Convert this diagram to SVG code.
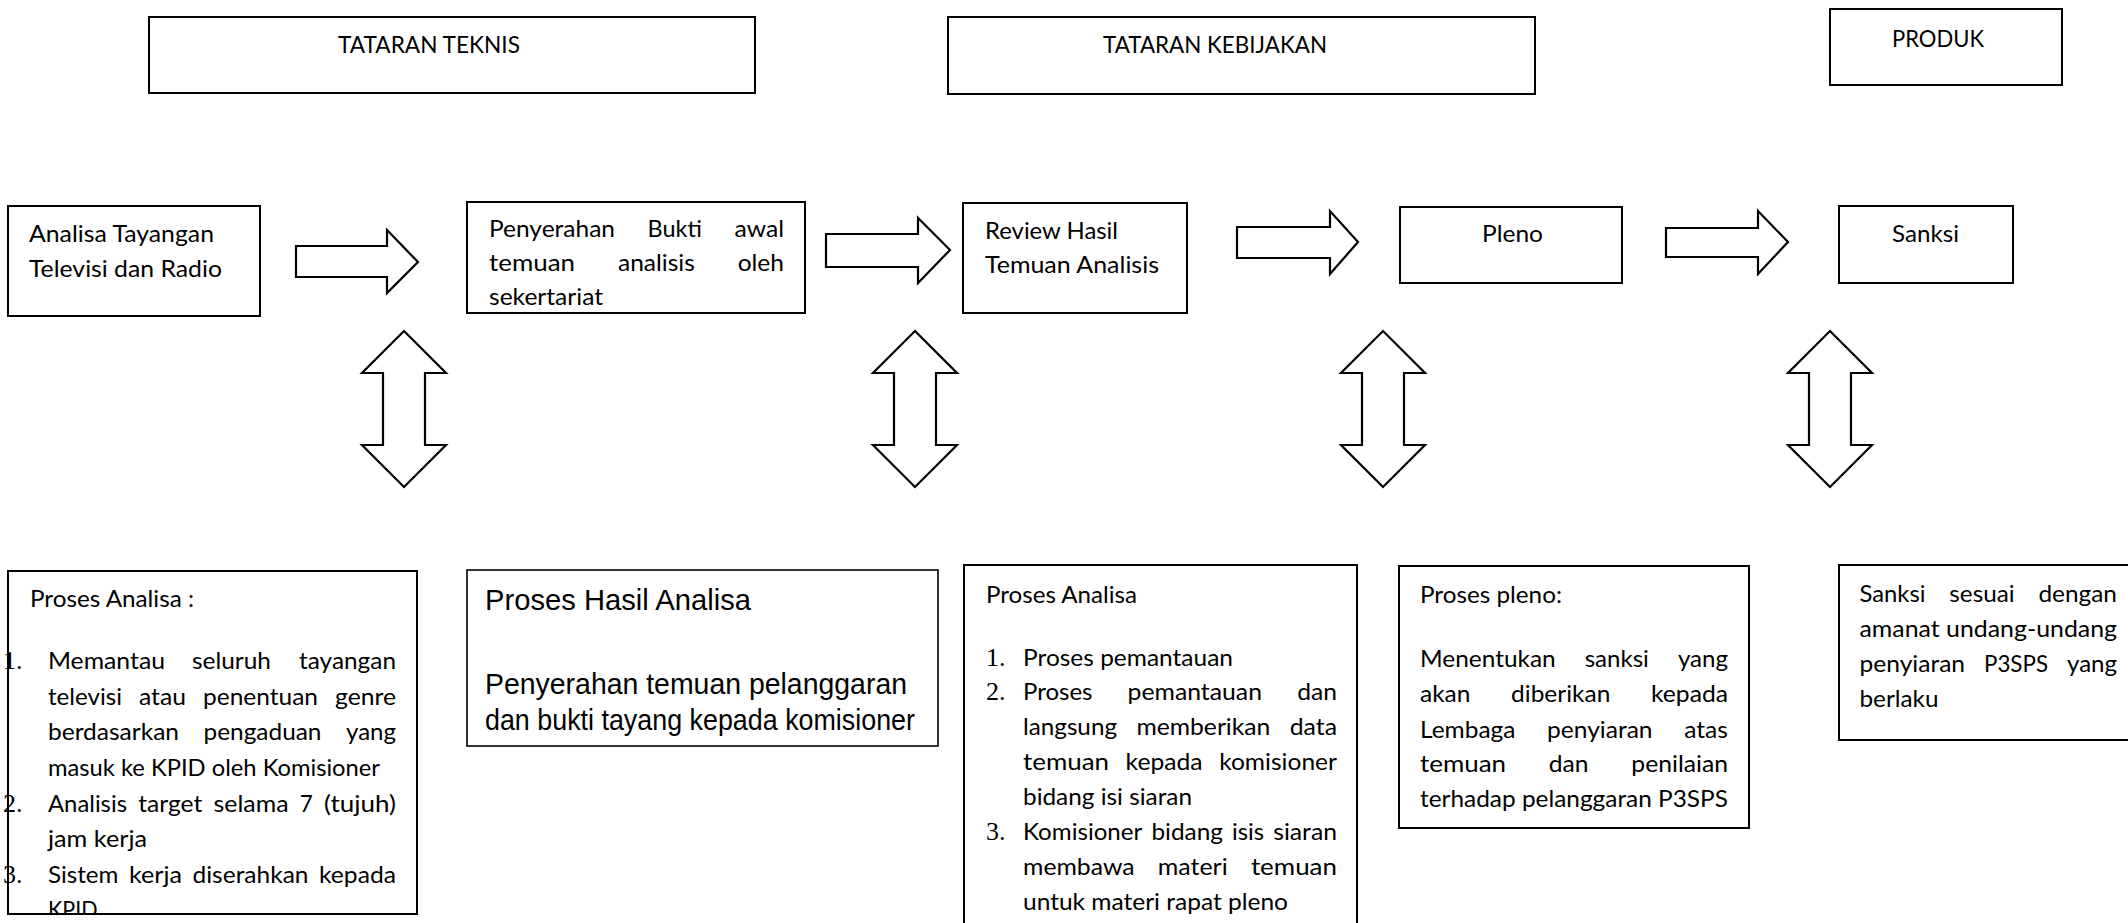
<svg xmlns="http://www.w3.org/2000/svg" width="2128" height="923" viewBox="0 0 2128 923">
<style>
.box{fill:#fff;stroke:#000;stroke-width:2}
.arr{fill:#fff;stroke:#000;stroke-width:2.2;stroke-linejoin:miter}
text{font-family:Lato,"Open Sans","Liberation Sans",sans-serif;font-size:24px;fill:#000}
.num{font-family:"Liberation Serif","Times New Roman",serif;font-size:26px}
.ar{font-family:"Liberation Sans",Arial,sans-serif;font-size:29px}
</style>
<defs>
<clipPath id="clip1"><rect x="0" y="560" width="430" height="353"/></clipPath>
</defs>

<g id="n-tataran-teknis">
<rect class="box" x="149" y="17" width="606" height="76"/>
<text x="338" y="53" textLength="182" lengthAdjust="spacingAndGlyphs">TATARAN TEKNIS</text>
</g>
<g id="n-tataran-kebijakan">
<rect class="box" x="948" y="17" width="587" height="77"/>
<text x="1103" y="53" textLength="224" lengthAdjust="spacingAndGlyphs">TATARAN KEBIJAKAN</text>
</g>
<g id="n-produk">
<rect class="box" x="1830" y="9" width="232" height="76"/>
<text x="1892" y="47" textLength="92" lengthAdjust="spacingAndGlyphs">PRODUK</text>
</g>

<g id="n-analisa">
<rect class="box" x="8" y="206" width="252" height="110"/>
<text x="29" y="242" textLength="185" lengthAdjust="spacingAndGlyphs">Analisa Tayangan</text>
<text x="29" y="277" textLength="193" lengthAdjust="spacingAndGlyphs">Televisi dan Radio</text>
</g>
<g id="n-penyerahan">
<rect class="box" x="467" y="202" width="338" height="111"/>
<text x="489" y="237" textLength="126" lengthAdjust="spacingAndGlyphs">Penyerahan</text>
<text x="647.6" y="237" textLength="54.3" lengthAdjust="spacingAndGlyphs">Bukti</text>
<text x="734.5" y="237" textLength="49.5" lengthAdjust="spacingAndGlyphs">awal</text>
<text x="489" y="271" textLength="86.1" lengthAdjust="spacingAndGlyphs">temuan</text>
<text x="618" y="271" textLength="76.8" lengthAdjust="spacingAndGlyphs">analisis</text>
<text x="737.7" y="271" textLength="46.3" lengthAdjust="spacingAndGlyphs">oleh</text>
<text x="489" y="305" textLength="114" lengthAdjust="spacingAndGlyphs">sekertariat</text>
</g>
<g id="n-review">
<rect class="box" x="963" y="203" width="224" height="110"/>
<text x="985" y="239" textLength="133" lengthAdjust="spacingAndGlyphs">Review Hasil</text>
<text x="985" y="273" textLength="174" lengthAdjust="spacingAndGlyphs">Temuan Analisis</text>
</g>
<g id="n-pleno">
<rect class="box" x="1400" y="207" width="222" height="76"/>
<text x="1482" y="242" textLength="61" lengthAdjust="spacingAndGlyphs">Pleno</text>
</g>
<g id="n-sanksi">
<rect class="box" x="1839" y="206" width="174" height="77"/>
<text x="1892" y="242" textLength="67" lengthAdjust="spacingAndGlyphs">Sanksi</text>
</g>

<g id="connectors">
<polygon class="arr" points="296,246 387,246 387,230 418,262 387,293 387,277 296,277"/>
<polygon class="arr" points="826,234 918,234 918,218 950,250 918,283 918,267 826,267"/>
<polygon class="arr" points="1237,227 1330,227 1330,211 1358,242 1330,274 1330,258 1237,258"/>
<polygon class="arr" points="1666,228 1758,228 1758,211 1788,242 1758,274 1758,257 1666,257"/>
<polygon class="arr" points="404,331 446,373 425,373 425,445 446,445 404,487 362,445 383,445 383,373 362,373"/>
<polygon class="arr" points="915,331 957,373 936,373 936,445 957,445 915,487 873,445 894,445 894,373 873,373"/>
<polygon class="arr" points="1383,331 1425,373 1404,373 1404,445 1425,445 1383,487 1341,445 1362,445 1362,373 1341,373"/>
<polygon class="arr" points="1830,331 1872,373 1851,373 1851,445 1872,445 1830,487 1788,445 1809,445 1809,373 1788,373"/>
</g>

<g id="n-proses-analisa-1">
<rect class="box" x="8" y="571" width="409" height="343"/>
<g clip-path="url(#clip1)">
<text x="30" y="607" textLength="164" lengthAdjust="spacingAndGlyphs">Proses Analisa :</text>
<text class="num" x="3" y="669">1.</text>
<text x="48" y="669" textLength="117" lengthAdjust="spacingAndGlyphs">Memantau</text>
<text x="192" y="669" textLength="79" lengthAdjust="spacingAndGlyphs">seluruh</text>
<text x="299" y="669" textLength="97" lengthAdjust="spacingAndGlyphs">tayangan</text>
<text x="48" y="705" textLength="74" lengthAdjust="spacingAndGlyphs">televisi</text>
<text x="139" y="705" textLength="47" lengthAdjust="spacingAndGlyphs">atau</text>
<text x="203" y="705" textLength="115" lengthAdjust="spacingAndGlyphs">penentuan</text>
<text x="335" y="705" textLength="61" lengthAdjust="spacingAndGlyphs">genre</text>
<text x="48" y="740" textLength="131" lengthAdjust="spacingAndGlyphs">berdasarkan</text>
<text x="203.5" y="740" textLength="118" lengthAdjust="spacingAndGlyphs">pengaduan</text>
<text x="346" y="740" textLength="50" lengthAdjust="spacingAndGlyphs">yang</text>
<text x="48" y="776" textLength="332" lengthAdjust="spacingAndGlyphs">masuk ke KPID oleh Komisioner</text>
<text class="num" x="3" y="812">2.</text>
<text x="48" y="812" textLength="79" lengthAdjust="spacingAndGlyphs">Analisis</text>
<text x="138.3" y="812" textLength="64" lengthAdjust="spacingAndGlyphs">target</text>
<text x="213.5" y="812" textLength="75" lengthAdjust="spacingAndGlyphs">selama</text>
<text x="299.8" y="812" textLength="13" lengthAdjust="spacingAndGlyphs">7</text>
<text x="324" y="812" textLength="72" lengthAdjust="spacingAndGlyphs">(tujuh)</text>
<text x="48" y="847" textLength="99" lengthAdjust="spacingAndGlyphs">jam kerja</text>
<text class="num" x="3" y="883">3.</text>
<text x="48" y="883" textLength="70.5" lengthAdjust="spacingAndGlyphs">Sistem</text>
<text x="129" y="883" textLength="53" lengthAdjust="spacingAndGlyphs">kerja</text>
<text x="192.5" y="883" textLength="116" lengthAdjust="spacingAndGlyphs">diserahkan</text>
<text x="319" y="883" textLength="77" lengthAdjust="spacingAndGlyphs">kepada</text>
<text x="48" y="918" textLength="49.5" lengthAdjust="spacingAndGlyphs">KPID</text>
</g>
</g>

<g id="n-proses-hasil-analisa">
<rect class="box" x="467" y="570" width="471" height="176" style="stroke-width:1.6"/>
<text class="ar" x="485" y="610" textLength="266" lengthAdjust="spacingAndGlyphs">Proses Hasil Analisa</text>
<text class="ar" x="485" y="694" textLength="422" lengthAdjust="spacingAndGlyphs">Penyerahan temuan pelanggaran</text>
<text class="ar" x="485" y="730" textLength="430" lengthAdjust="spacingAndGlyphs">dan bukti tayang kepada komisioner</text>
</g>

<g id="n-proses-analisa-2">
<path class="box" d="M964,930 V565 H1357 V930"/>
<text x="986" y="603" textLength="151" lengthAdjust="spacingAndGlyphs">Proses Analisa</text>
<text class="num" x="986" y="666">1.</text>
<text x="1023" y="666" textLength="210" lengthAdjust="spacingAndGlyphs">Proses pemantauan</text>
<text class="num" x="986" y="700">2.</text>
<text x="1023" y="700" textLength="69.5" lengthAdjust="spacingAndGlyphs">Proses</text>
<text x="1127.6" y="700" textLength="134.4" lengthAdjust="spacingAndGlyphs">pemantauan</text>
<text x="1297.2" y="700" textLength="39.8" lengthAdjust="spacingAndGlyphs">dan</text>
<text x="1023" y="735" textLength="94" lengthAdjust="spacingAndGlyphs">langsung</text>
<text x="1136.4" y="735" textLength="134" lengthAdjust="spacingAndGlyphs">memberikan</text>
<text x="1289.7" y="735" textLength="47.3" lengthAdjust="spacingAndGlyphs">data</text>
<text x="1023" y="770" textLength="86.1" lengthAdjust="spacingAndGlyphs">temuan</text>
<text x="1125.6" y="770" textLength="77" lengthAdjust="spacingAndGlyphs">kepada</text>
<text x="1219.2" y="770" textLength="117.8" lengthAdjust="spacingAndGlyphs">komisioner</text>
<text x="1023" y="805" textLength="169" lengthAdjust="spacingAndGlyphs">bidang isi siaran</text>
<text class="num" x="986" y="840">3.</text>
<text x="1023" y="840" textLength="119.4" lengthAdjust="spacingAndGlyphs">Komisioner</text>
<text x="1151.4" y="840" textLength="71.6" lengthAdjust="spacingAndGlyphs">bidang</text>
<text x="1232" y="840" textLength="32.2" lengthAdjust="spacingAndGlyphs">isis</text>
<text x="1273.2" y="840" textLength="63.8" lengthAdjust="spacingAndGlyphs">siaran</text>
<text x="1023" y="875" textLength="111.6" lengthAdjust="spacingAndGlyphs">membawa</text>
<text x="1157.8" y="875" textLength="69.9" lengthAdjust="spacingAndGlyphs">materi</text>
<text x="1250.9" y="875" textLength="86.1" lengthAdjust="spacingAndGlyphs">temuan</text>
<text x="1023" y="910" textLength="265" lengthAdjust="spacingAndGlyphs">untuk materi rapat pleno</text>
</g>

<g id="n-proses-pleno">
<rect class="box" x="1399" y="566" width="350" height="262"/>
<text x="1420" y="603" textLength="142" lengthAdjust="spacingAndGlyphs">Proses pleno:</text>
<text x="1420" y="667" textLength="135.7" lengthAdjust="spacingAndGlyphs">Menentukan</text>
<text x="1584.7" y="667" textLength="64.2" lengthAdjust="spacingAndGlyphs">sanksi</text>
<text x="1677.9" y="667" textLength="50.1" lengthAdjust="spacingAndGlyphs">yang</text>
<text x="1420" y="702" textLength="50.4" lengthAdjust="spacingAndGlyphs">akan</text>
<text x="1511.1" y="702" textLength="99.2" lengthAdjust="spacingAndGlyphs">diberikan</text>
<text x="1651" y="702" textLength="77" lengthAdjust="spacingAndGlyphs">kepada</text>
<text x="1420" y="738" textLength="95.4" lengthAdjust="spacingAndGlyphs">Lembaga</text>
<text x="1547" y="738" textLength="105.6" lengthAdjust="spacingAndGlyphs">penyiaran</text>
<text x="1684.2" y="738" textLength="43.8" lengthAdjust="spacingAndGlyphs">atas</text>
<text x="1420" y="772" textLength="86.1" lengthAdjust="spacingAndGlyphs">temuan</text>
<text x="1548.8" y="772" textLength="39.8" lengthAdjust="spacingAndGlyphs">dan</text>
<text x="1631.3" y="772" textLength="96.7" lengthAdjust="spacingAndGlyphs">penilaian</text>
<text x="1420" y="807" textLength="308" lengthAdjust="spacingAndGlyphs">terhadap pelanggaran P3SPS</text>
</g>

<g id="n-sanksi-ket">
<path class="box" d="M2140,565 H1839 V740 H2140"/>
<text x="1859.5" y="602" textLength="66" lengthAdjust="spacingAndGlyphs">Sanksi</text>
<text x="1949.3" y="602" textLength="65.3" lengthAdjust="spacingAndGlyphs">sesuai</text>
<text x="2038.4" y="602" textLength="78.6" lengthAdjust="spacingAndGlyphs">dengan</text>
<text x="1859.5" y="637" textLength="257.5" lengthAdjust="spacingAndGlyphs">amanat undang-undang</text>
<text x="1859.5" y="672" textLength="105.6" lengthAdjust="spacingAndGlyphs">penyiaran</text>
<text x="1984" y="672" textLength="64" lengthAdjust="spacingAndGlyphs">P3SPS</text>
<text x="2067" y="672" textLength="50" lengthAdjust="spacingAndGlyphs">yang</text>
<text x="1859.5" y="707" textLength="79" lengthAdjust="spacingAndGlyphs">berlaku</text>
</g>
</svg>
